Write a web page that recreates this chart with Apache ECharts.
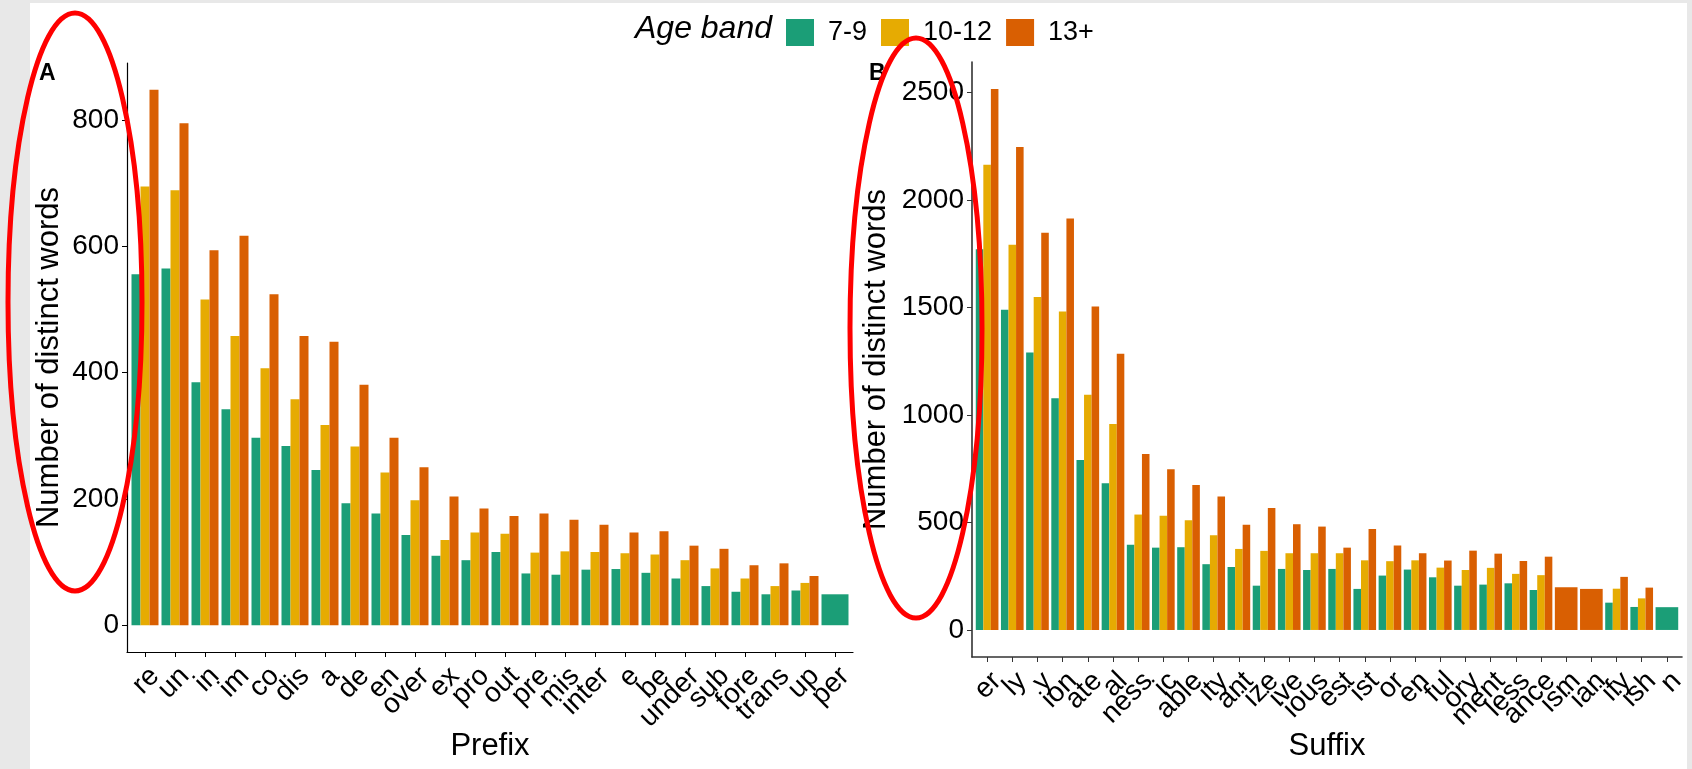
<!DOCTYPE html>
<html>
<head>
<meta charset="utf-8">
<title>Distinct words by affix and age band</title>
<script src="https://cdn.jsdelivr.net/npm/echarts@6/dist/echarts.min.js"></script>
<style>
  html, body { margin: 0; padding: 0; background: #ffffff; }
  #chart { width: 1692px; height: 769px; }
</style>
</head>
<body>
<div id="chart"></div>
<script>
// Age bands shown in the legend
const bands = ['7-9', '10-12', '13+'];
const bandColors = ['#1B9E77', '#E6AB02', '#D95F02'];

// Panel A: prefixes
const prefixes = ['re', 'un', 'in', 'im', 'co', 'dis', 'a', 'de', 'en', 'over', 'ex', 'pro',
  'out', 'pre', 'mis', 'inter', 'e', 'be', 'under', 'sub', 'fore', 'trans', 'up', 'per'];
const prefix7to9 = [556, 565, 385, 342, 297, 284, 246, 193, 177, 143, 110, 103,
  116, 82, 80, 88, 89, 83, 74, 62, 53, 49, 55, 49];
const prefix10to12 = [695, 689, 516, 458, 407, 358, 317, 283, 242, 198, 135, 147,
  145, 115, 117, 116, 114, 112, 103, 90, 74, 62, 67, null];
const prefix13plus = [848, 795, 594, 617, 524, 458, 449, 381, 297, 250, 204, 185,
  173, 177, 167, 159, 147, 149, 126, 121, 95, 98, 78, null];
const prefixTicks = [0, 200, 400, 600, 800];

// Panel B: suffixes
const suffixes = ['er', 'ly', 'y', 'ion', 'ate', 'al', 'ness', 'ic', 'able', 'ity', 'ant', 'ize',
  'ive', 'ious', 'est', 'ist', 'or', 'en', 'ful', 'ory', 'ment', 'less', 'ance', 'ism', 'ian',
  'ify', 'ish', 'n'];
const suffix7to9 = [1772, 1490, 1291, 1078, 791, 683, 397, 383, 385, 306, 293, 206,
  284, 279, 284, 191, 253, 281, 245, 206, 211, 217, 186, null, null, 127, 107, 106];
const suffix10to12 = [2165, 1792, 1549, 1482, 1094, 958, 537, 532, 511, 441, 377, 368,
  357, 357, 357, 324, 320, 324, 290, 279, 289, 261, 255, null, null, 192, 147, null];
const suffix13plus = [2517, 2247, 1848, 1915, 1505, 1285, 819, 748, 674, 621, 489, 568,
  492, 481, 383, 470, 393, 357, 323, 369, 355, 321, 341, 199, 191, 247, 197, null];
const suffixTicks = [0, 500, 1000, 1500, 2000, 2500];

const FONT = '"Liberation Sans", Arial, Helvetica, sans-serif';
const TEXT = '#000000';
const TICK_FONT = 28;
const TITLE_FONT = 31;
const PAD = 0.6; // discrete axis expansion, in category units, on each side

const prefixPanel = [prefix7to9, prefix10to12, prefix13plus];
const suffixPanel = [suffix7to9, suffix10to12, suffix13plus];

// Plot panels (pixel boxes)
const panelA = { left: 127, top: 63, width: 726, height: 589 };
const panelB = { left: 972, top: 62, width: 710, height: 595 };

// A category grid whose band centres line up with integer positions of the
// padded value axis of the panel; it only carries the category ticks and labels.
function labelGrid(p, n) {
  const unit = p.width / (n - 1 + 2 * PAD);
  return { left: p.left + (PAD - 0.5) * unit, top: p.top, width: n * unit, height: p.height };
}

// Dodged bars: the bars present at a category share 90% of the category width,
// so a category with a single age band gets one full-width bar.
function bandSeries(panel, bandIdx, axisIdx) {
  const data = [];
  panel[bandIdx].forEach((v, i) => { if (v != null) data.push([i, v]); });
  return {
    type: 'custom',
    name: bands[bandIdx],
    xAxisIndex: axisIdx,
    yAxisIndex: axisIdx,
    itemStyle: { color: bandColors[bandIdx] },
    encode: { x: 0, y: 1 },
    data: data,
    renderItem: function (params, api) {
      const i = api.value(0);
      const v = api.value(1);
      const present = [0, 1, 2].filter(b => panel[b][i] != null);
      const slot = present.indexOf(bandIdx);
      const unit = api.size([1, 0])[0];
      const total = unit * 0.9;
      const bw = total / present.length;
      const base = api.coord([i, 0]);
      const top = api.coord([i, v]);
      return {
        type: 'rect',
        shape: { x: base[0] - total / 2 + slot * bw, y: top[1], width: bw, height: base[1] - top[1] },
        style: { fill: bandColors[bandIdx] }
      };
    }
  };
}

function panelMax(panel) {
  return Math.max(...panel.flat().filter(v => v != null));
}

// Padded value axis: axis line and title only
function xLineAxis(n, gridIndex, title, nameGap, lineColor, lineWidth) {
  return {
    type: 'value',
    gridIndex: gridIndex,
    position: 'bottom',
    min: -PAD,
    max: n - 1 + PAD,
    name: title,
    nameLocation: 'middle',
    nameGap: nameGap,
    nameTextStyle: { fontFamily: FONT, fontSize: TITLE_FONT, color: TEXT },
    splitLine: { show: false },
    axisLine: { show: true, onZero: false, lineStyle: { color: lineColor, width: lineWidth } },
    axisTick: { show: false },
    axisLabel: { show: false }
  };
}

// Category axis: ticks and rotated labels
function xLabelAxis(names, gridIndex, lineColor) {
  return {
    type: 'category',
    gridIndex: gridIndex,
    position: 'bottom',
    data: names,
    boundaryGap: true,
    axisLine: { show: false },
    splitLine: { show: false },
    axisTick: { show: true, alignWithLabel: true, interval: 0, length: 5, lineStyle: { color: lineColor, width: 1 } },
    axisLabel: {
      interval: 0,
      rotate: 45,
      align: 'right',
      verticalAlign: 'top',
      margin: 10,
      fontFamily: FONT,
      fontSize: TICK_FONT,
      color: TEXT
    }
  };
}

function yAxisFor(panel, ticks, gridIndex, nameGap, lineColor, lineWidth) {
  const m = panelMax(panel);
  return {
    type: 'value',
    gridIndex: gridIndex,
    min: -0.05 * m,
    max: 1.05 * m,
    name: 'Number of distinct words',
    nameLocation: 'middle',
    nameGap: nameGap,
    nameTextStyle: { fontFamily: FONT, fontSize: TITLE_FONT, color: TEXT },
    splitLine: { show: false },
    axisLine: { show: true, onZero: false, lineStyle: { color: lineColor, width: lineWidth } },
    axisTick: { show: true, customValues: ticks, length: 5, lineStyle: { color: lineColor, width: 1 } },
    axisLabel: {
      customValues: ticks,
      showMinLabel: true,
      showMaxLabel: true,
      margin: 8,
      fontFamily: FONT,
      fontSize: TICK_FONT,
      color: TEXT,
      formatter: v => String(v)
    }
  };
}

function hiddenY(gridIndex) {
  return { type: 'value', gridIndex: gridIndex, show: false, min: 0, max: 1 };
}

const chart = echarts.init(document.getElementById('chart'), null, { renderer: 'canvas' });

chart.setOption({
  backgroundColor: '#ffffff',
  animation: false,
  grid: [
    panelA,
    panelB,
    labelGrid(panelA, prefixes.length),
    labelGrid(panelB, suffixes.length)
  ],
  legend: {
    data: bands,
    left: 781,
    top: 14,
    itemWidth: 28,
    itemHeight: 27,
    itemGap: 14,
    icon: 'rect',
    textStyle: { fontFamily: FONT, fontSize: 27, color: TEXT, padding: [0, 0, 0, 9] }
  },
  xAxis: [
    xLineAxis(prefixes.length, 0, 'Prefix', 79, '#000000', 1.2),
    xLineAxis(suffixes.length, 1, 'Suffix', 74, '#333333', 1.6),
    xLabelAxis(prefixes, 2, '#000000'),
    xLabelAxis(suffixes, 3, '#333333')
  ],
  yAxis: [
    yAxisFor(prefixPanel, prefixTicks, 0, 62, '#000000', 1.2),
    yAxisFor(suffixPanel, suffixTicks, 1, 80, '#333333', 1.6),
    hiddenY(2),
    hiddenY(3)
  ],
  series: [
    bandSeries(prefixPanel, 0, 0),
    bandSeries(prefixPanel, 1, 0),
    bandSeries(prefixPanel, 2, 0),
    bandSeries(suffixPanel, 0, 1),
    bandSeries(suffixPanel, 1, 1),
    bandSeries(suffixPanel, 2, 1)
  ],
  graphic: [
    // page frame
    { type: 'rect', z: 0, silent: true, shape: { x: 0, y: 0, width: 30, height: 769 }, style: { fill: '#e8e8e8' } },
    { type: 'rect', z: 0, silent: true, shape: { x: 0, y: 0, width: 1692, height: 3 }, style: { fill: '#e8e8e8' } },
    { type: 'rect', z: 0, silent: true, shape: { x: 1687, y: 0, width: 5, height: 769 }, style: { fill: '#e8e8e8' } },
    // legend title
    { type: 'text', z: 10, x: 772, y: 29,
      style: { text: 'Age band', font: 'italic 32px ' + FONT, fill: TEXT, textAlign: 'right', textVerticalAlign: 'middle' } },
    // panel tags
    { type: 'text', z: 10, x: 39, y: 62,
      style: { text: 'A', font: 'bold 23px ' + FONT, fill: TEXT, textAlign: 'left', textVerticalAlign: 'top' } },
    { type: 'text', z: 10, x: 869, y: 62,
      style: { text: 'B', font: 'bold 23px ' + FONT, fill: TEXT, textAlign: 'left', textVerticalAlign: 'top' } },
    // highlight rings around the count axes
    { type: 'ellipse', z: 100, silent: true, shape: { cx: 75, cy: 302, rx: 67, ry: 289 },
      style: { fill: 'none', stroke: '#ff0000', lineWidth: 5 } },
    { type: 'ellipse', z: 100, silent: true, shape: { cx: 916, cy: 328, rx: 66, ry: 290 },
      style: { fill: 'none', stroke: '#ff0000', lineWidth: 5 } }
  ]
});
</script>
</body>
</html>
